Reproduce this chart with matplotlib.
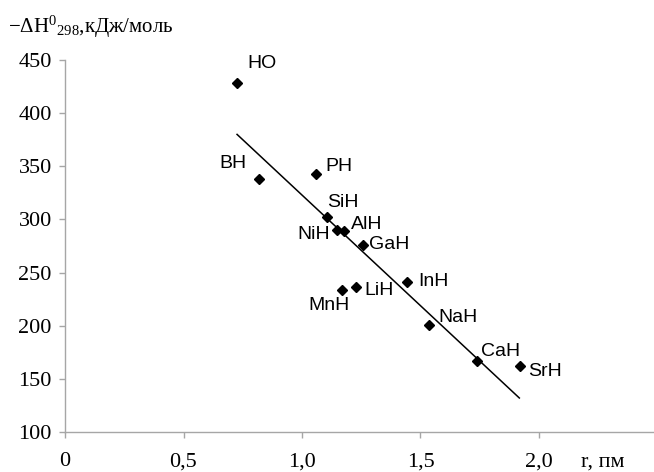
import matplotlib
matplotlib.use("Agg")
import matplotlib.pyplot as plt

# Data
compounds = ["HO", "BH", "PH", "SiH", "NiH", "AlH", "GaH", "InH", "MnH", "LiH", "NaH", "CaH", "SrH"]
r_values = [0.726, 0.818, 1.057, 1.107, 1.147, 1.179, 1.259, 1.442, 1.167, 1.228, 1.537, 1.739, 1.920]
dH_values = [428, 338, 343, 302, 290.5, 289.5, 276, 241.5, 234, 236.5, 200.5, 166.5, 162]
trend_x = [0.726, 1.917]
trend_y = [380, 132]
x_ticks = [0, 0.5, 1.0, 1.5, 2.0]
x_tick_labels = ["0", "0,5", "1,0", "1,5", "2,0"]
y_ticks = [100, 150, 200, 250, 300, 350, 400, 450]

# label offsets in pixels (dx, dy) relative to point
label_offsets = {
    "HO": (25, 20), "BH": (-26, 16), "PH": (23, 7), "SiH": (16, 15),
    "NiH": (-23, -5), "AlH": (22, 6), "GaH": (26, 0), "InH": (27, 0),
    "MnH": (-13, -16), "LiH": (23, -4), "NaH": (29, 8), "CaH": (23, 10),
    "SrH": (25, -5),
}

plt.rcParams["mathtext.fontset"] = "custom"
plt.rcParams["mathtext.rm"] = "Liberation Serif"
plt.rcParams["mathtext.it"] = "Liberation Serif:italic"

fig = plt.figure(figsize=(6.54, 4.72), dpi=100)
W, H = 654, 472
left, right, bottom, top = 65, 654, 432, 60
ax = fig.add_axes([left / W, 1 - bottom / H, (right - left) / W, (bottom - top) / H])
ax.set_xlim(0, (right - left) / 237.0)
ax.set_ylim(100, 450)

gray = "#a6a6a6"
for s in ["top", "right"]:
    ax.spines[s].set_visible(False)
for s in ["left", "bottom"]:
    ax.spines[s].set_color(gray)
    ax.spines[s].set_linewidth(1.0)

ax.set_xticks(x_ticks)
ax.set_xticklabels(x_tick_labels)
ax.set_yticks(y_ticks)
ax.tick_params(axis="both", colors=gray, labelcolor="black", direction="out",
               length=4.5, width=1.0, labelsize=16)
ax.tick_params(axis="x", pad=10)
ax.tick_params(axis="y", pad=5)
for lbl in ax.get_xticklabels() + ax.get_yticklabels():
    lbl.set_family("Liberation Serif")

ax.plot(trend_x, trend_y, color="black", lw=1.1)
ax.plot(r_values, dH_values, linestyle="none", marker="D", color="black",
        markersize=5, zorder=3)

for name, xv, yv in zip(compounds, r_values, dH_values):
    dx, dy = label_offsets[name]
    ax.annotate(name, (xv, yv), xytext=(dx * 0.72, dy * 0.72), textcoords="offset points",
                ha="center", va="center", fontsize=14, family="Liberation Sans")

fig.text(603 / W, 1 - 462 / H, "r, пм", ha="center", va="center",
         fontsize=16, family="Liberation Serif")
fig.text(8 / W, 1 - 27 / H, r"$-\Delta\mathrm{H}^{0}{}_{298}$,кДж/моль", ha="left",
         va="center", fontsize=15, family="Liberation Serif")

fig.savefig("out.png", dpi=100, facecolor="white")
